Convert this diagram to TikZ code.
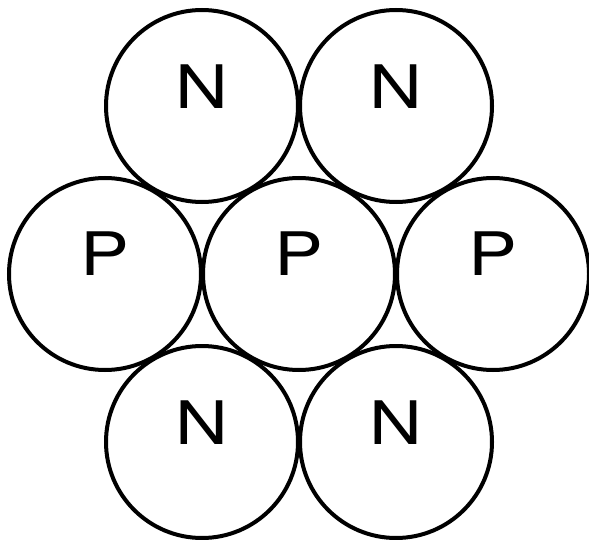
\documentclass[tikz,border=0pt]{standalone}
\usepackage{fontspec}
\setmainfont{TeX Gyre Heros}
\usetikzlibrary{positioning}
\usetikzlibrary{calc}

\begin{document}
\begin{tikzpicture}[x=1pt, y=-1pt,
    ball/.style={circle, draw=black, line width=4pt, minimum size=192pt, inner sep=0pt},
    tag/.style={inner sep=0pt, xscale=1.22, font=\fontsize{60}{60}\selectfont}]

      \useasboundingbox (0,0) rectangle (589,540);

      % Distance between ball centres
      \def\dist{194}

      % Row height in the hexagonal packing
      \def\rowh{168}

      % Middle row: three P balls
      \foreach \i in {1,...,3} {
        \node[ball] (p\i) at ({105+(\i-1)*\dist}, 274) {};
        \node[tag] (lp\i) at ([yshift=20pt]p\i) {P};
      }

      % Top and bottom rows: N balls in the gaps
      \foreach \i in {1,2} {
        \node[ball] (nt\i) at ({105+\dist/2+(\i-1)*\dist}, {274-\rowh}) {};
        \node[tag] (lnt\i) at ([yshift=19pt]nt\i) {N};
        \node[ball] (nb\i) at ({105+\dist/2+(\i-1)*\dist}, {274+\rowh}) {};
        \node[tag] (lnb\i) at ([yshift=19pt]nb\i) {N};
      }

    \end{tikzpicture}
\end{document}
